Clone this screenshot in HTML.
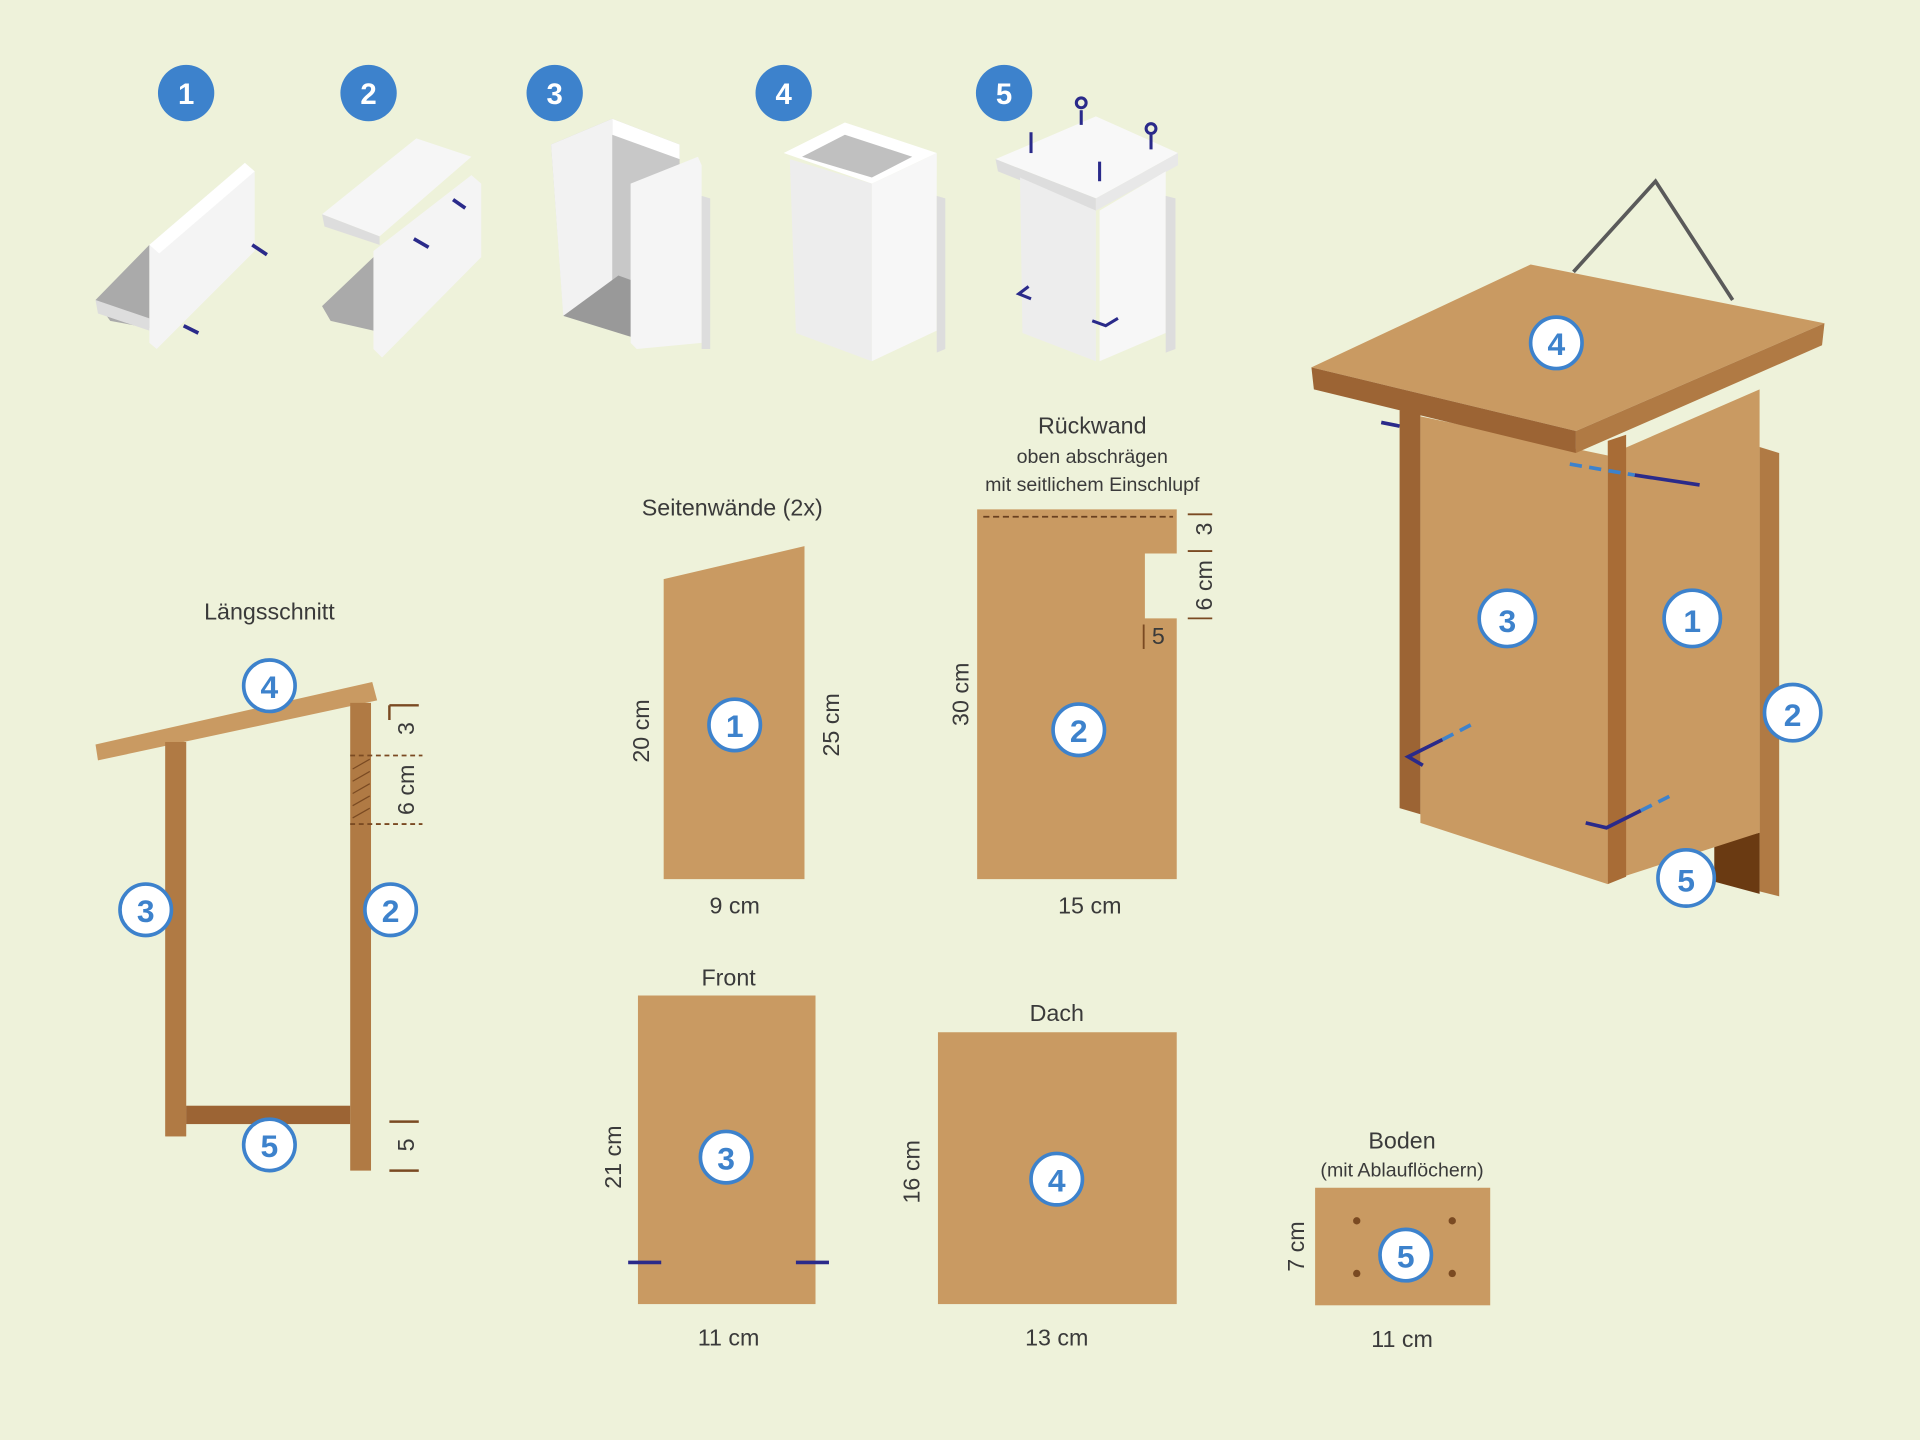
<!DOCTYPE html>
<html><head><meta charset="utf-8"><style>
html,body{margin:0;padding:0;background:#eef2da;}
svg{display:block}
text{font-family:"Liberation Sans",sans-serif;fill:#3a3a3a}
.c{fill:#fff;stroke:#3d82cc;stroke-width:3}
.n{fill:#3d82cc;font-weight:bold;font-size:26px;text-anchor:middle}
.b{fill:#3d82cc}
.bn{fill:#fff;font-weight:bold;font-size:24px;text-anchor:middle}
.t{font-size:19px;text-anchor:middle}
.w{fill:#c99a62}
.d{fill:#a86c36}
</style></head><body>
<svg width="1920" height="1440" viewBox="0 0 1568 1176" xmlns="http://www.w3.org/2000/svg">
<rect width="1568" height="1176" fill="#eef2da"/>

<!-- step icons -->
<g>
<circle class="b" cx="152" cy="76" r="23"/><text class="bn" x="152" y="85">1</text>
<circle class="b" cx="301" cy="76" r="23"/><text class="bn" x="301" y="85">2</text>
<circle class="b" cx="453" cy="76" r="23"/><text class="bn" x="453" y="85">3</text>
<circle class="b" cx="640" cy="76" r="23"/><text class="bn" x="640" y="85">4</text>
<circle class="b" cx="820" cy="76" r="23"/><text class="bn" x="820" y="85">5</text>
</g>
<!-- step 1 -->
<polygon points="78,245 122,200 122,268 90,262" fill="#aaa"/>
<polygon points="78,245 122,260 122,270 80,256" fill="#ddd"/>
<polygon points="122,200 200,133 208,140 208,205 128,285 122,280" fill="#f4f4f4"/>
<polygon points="122,200 200,133 208,140 130,207" fill="#fff"/>
<line x1="206" y1="200" x2="218" y2="208" stroke="#2a2a8a" stroke-width="3"/>
<line x1="150" y1="266" x2="162" y2="272" stroke="#2a2a8a" stroke-width="3"/>
<!-- step 2 -->
<polygon points="263,175 340,113 385,128 310,193" fill="#f6f6f6"/>
<polygon points="263,175 310,193 310,200 265,185" fill="#ddd"/>
<polygon points="263,250 305,210 305,270 270,262" fill="#aaa"/>
<polygon points="305,205 385,143 393,150 393,210 312,292 305,285" fill="#f4f4f4"/>
<line x1="338" y1="195" x2="350" y2="202" stroke="#2a2a8a" stroke-width="3"/>
<line x1="370" y1="163" x2="380" y2="170" stroke="#2a2a8a" stroke-width="3"/>
<!-- step 3 -->
<polygon points="450,118 500,97 555,118 555,245 505,270 460,255" fill="#c8c8c8"/>
<polygon points="450,118 500,97 500,245 460,258" fill="#f2f2f2"/>
<polygon points="500,97 555,118 555,130 500,110" fill="#fff"/>
<polygon points="460,258 505,225 560,245 515,275" fill="#999"/>
<polygon points="515,150 570,128 573,135 573,280 520,285 515,280" fill="#f5f5f5"/>
<polygon points="573,160 580,162 580,285 573,285" fill="#ddd"/>
<!-- step 4 -->
<polygon points="640,125 690,100 765,125 712,150" fill="#fff"/>
<polygon points="655,128 690,110 745,128 712,145" fill="#c0c0c0"/>
<polygon points="645,130 712,150 712,295 650,272" fill="#ededed"/>
<polygon points="712,150 765,125 765,270 712,295" fill="#f7f7f7"/>
<polygon points="765,160 772,162 772,285 765,288" fill="#ddd"/>
<!-- step 5 -->
<polygon points="813,130 895,95 962,125 895,162" fill="#f8f8f8"/>
<polygon points="813,130 895,162 895,172 815,140" fill="#ddd"/>
<polygon points="895,162 962,125 962,135 895,172" fill="#e8e8e8"/>
<polygon points="833,145 895,172 895,295 835,272" fill="#ededed"/>
<polygon points="898,172 952,140 952,272 898,295" fill="#f7f7f7"/>
<polygon points="952,160 960,162 960,285 952,288" fill="#ddd"/>
<g stroke="#2a2a8a" stroke-width="2.5" fill="none">
<line x1="883" y1="90" x2="883" y2="102"/><circle cx="883" cy="84" r="4"/>
<line x1="940" y1="110" x2="940" y2="122"/><circle cx="940" cy="105" r="4"/>
<line x1="842" y1="108" x2="842" y2="125"/><line x1="898" y1="132" x2="898" y2="148"/>
<polyline points="840,234 832,240 842,244"/><polyline points="892,262 903,266 913,260"/>
</g>

<!-- Längsschnitt -->
<text class="t" x="220" y="506">Längsschnitt</text>
<polygon class="w" points="78,608 304,557 308,572 80,621"/>
<rect class="d" x="135" y="606" width="17" height="322" fill="#b07a44"/>
<rect x="286" y="574" width="17" height="382" fill="#b07a44"/>
<rect x="152" y="903" width="134" height="15" fill="#9c6434"/>
<rect x="135" y="606" width="17" height="322" fill="#b07a44"/>
<g stroke="#7a4a22" stroke-width="1.5" stroke-dasharray="4,3">
<line x1="286" y1="617" x2="345" y2="617"/><line x1="286" y1="673" x2="345" y2="673"/>
</g>
<g stroke="#7a4a22" stroke-width="1">
<line x1="288" y1="628" x2="302" y2="620"/><line x1="288" y1="638" x2="302" y2="630"/><line x1="288" y1="648" x2="302" y2="640"/><line x1="288" y1="658" x2="302" y2="650"/><line x1="288" y1="668" x2="302" y2="660"/>
</g>
<g stroke="#7a4a22" stroke-width="2">
<line x1="318" y1="576" x2="342" y2="576"/><line x1="318" y1="916" x2="342" y2="916"/><line x1="318" y1="956" x2="342" y2="956"/>
<line x1="318" y1="576" x2="318" y2="588"/>
</g>
<text class="t" transform="translate(338,595) rotate(-90)">3</text>
<text class="t" transform="translate(338,645) rotate(-90)">6 cm</text>
<text class="t" transform="translate(338,935) rotate(-90)">5</text>
<circle class="c" cx="220" cy="560" r="21"/><text class="n" x="220" y="570">4</text>
<circle class="c" cx="119" cy="743" r="21"/><text class="n" x="119" y="753">3</text>
<circle class="c" cx="319" cy="743" r="21"/><text class="n" x="319" y="753">2</text>
<circle class="c" cx="220" cy="935" r="21"/><text class="n" x="220" y="945">5</text>

<!-- Seitenwände -->
<text class="t" x="598" y="421">Seitenwände (2x)</text>
<polygon class="w" points="542,473 657,446 657,718 542,718"/>
<text class="t" transform="translate(530,597) rotate(-90)">20 cm</text>
<text class="t" transform="translate(685,592) rotate(-90)">25 cm</text>
<text class="t" x="600" y="746">9 cm</text>
<circle class="c" cx="600" cy="592" r="21"/><text class="n" x="600" y="602">1</text>

<!-- Rückwand -->
<text class="t" x="892" y="354">Rückwand</text>
<text class="t" x="892" y="378" style="font-size:16px">oben abschrägen</text>
<text class="t" x="892" y="401" style="font-size:16px">mit seitlichem Einschlupf</text>
<polygon class="w" points="798,416 961,416 961,452 935,452 935,505 961,505 961,718 798,718"/>
<line x1="803" y1="422" x2="958" y2="422" stroke="#6a4020" stroke-width="1.5" stroke-dasharray="5,3"/>
<g stroke="#7a4a22" stroke-width="1.5">
<line x1="970" y1="420" x2="990" y2="420"/><line x1="970" y1="450" x2="990" y2="450"/><line x1="970" y1="505" x2="990" y2="505"/>
<line x1="934" y1="510" x2="934" y2="530"/>
</g>
<text class="t" transform="translate(990,432) rotate(-90)">3</text>
<text class="t" transform="translate(990,478) rotate(-90)">6 cm</text>
<text class="t" x="946" y="526">5</text>
<text class="t" transform="translate(791,567) rotate(-90)">30 cm</text>
<text class="t" x="890" y="746">15 cm</text>
<circle class="c" cx="881" cy="596" r="21"/><text class="n" x="881" y="606">2</text>

<!-- Front -->
<text class="t" x="595" y="805">Front</text>
<rect class="w" x="521" y="813" width="145" height="252"/>
<line x1="513" y1="1031" x2="540" y2="1031" stroke="#2a2a8a" stroke-width="3"/>
<line x1="650" y1="1031" x2="677" y2="1031" stroke="#2a2a8a" stroke-width="3"/>
<text class="t" transform="translate(507,945) rotate(-90)">21 cm</text>
<text class="t" x="595" y="1099">11 cm</text>
<circle class="c" cx="593" cy="945" r="21"/><text class="n" x="593" y="955">3</text>

<!-- Dach -->
<text class="t" x="863" y="834">Dach</text>
<rect class="w" x="766" y="843" width="195" height="222"/>
<text class="t" transform="translate(751,957) rotate(-90)">16 cm</text>
<text class="t" x="863" y="1099">13 cm</text>
<circle class="c" cx="863" cy="963" r="21"/><text class="n" x="863" y="973">4</text>

<!-- Boden -->
<text class="t" x="1145" y="938">Boden</text>
<text class="t" x="1145" y="961" style="font-size:16px">(mit Ablauflöchern)</text>
<rect class="w" x="1074" y="970" width="143" height="96"/>
<g fill="#7a4a22"><circle cx="1108" cy="997" r="3"/><circle cx="1186" cy="997" r="3"/><circle cx="1108" cy="1040" r="3"/><circle cx="1186" cy="1040" r="3"/></g>
<text class="t" transform="translate(1065,1018) rotate(-90)">7 cm</text>
<text class="t" x="1145" y="1100">11 cm</text>
<circle class="c" cx="1148" cy="1025" r="21"/><text class="n" x="1148" y="1035">5</text>

<!-- House -->
<path d="M1285,222 L1352,148 L1415,245" fill="none" stroke="#5a5a5a" stroke-width="3"/>
<polygon points="1437,365 1453,370 1453,732 1437,728" fill="#b07a44"/>
<polygon points="1400,690 1437,680 1437,730 1400,720" fill="#6a3a12"/>
<polygon points="1143,335 1160,335 1160,665 1143,660" fill="#9c6434"/>
<polygon points="1313,372 1437,318 1437,680 1313,720" fill="#c99a62"/>
<polygon class="w" points="1160,340 1313,372 1313,722 1160,672"/>
<polygon points="1313,360 1328,355 1328,716 1313,722" fill="#a86c36"/>
<polygon points="1071,300 1250,216 1490,264 1287,352" fill="#c99a62"/>
<polygon points="1071,300 1287,352 1287,370 1073,318" fill="#9c6434"/>
<polygon points="1287,352 1490,264 1488,282 1287,370" fill="#b07a44"/>
<g stroke="#2a2a8a" stroke-width="3" fill="none">
<line x1="1128" y1="345" x2="1143" y2="348"/>
<line x1="1335" y1="388" x2="1388" y2="396"/>
<polyline points="1162,625 1150,618 1178,604"/>
<polyline points="1295,672 1312,676 1340,662"/>
</g>
<g stroke="#3d82cc" stroke-width="3" stroke-dasharray="10,6">
<line x1="1282" y1="379" x2="1335" y2="388"/>
<line x1="1178" y1="604" x2="1205" y2="590"/>
<line x1="1340" y1="662" x2="1368" y2="648"/>
</g>
<circle class="c" cx="1271" cy="280" r="21"/><text class="n" x="1271" y="290">4</text>
<circle class="c" cx="1231" cy="505" r="23"/><text class="n" x="1231" y="516">3</text>
<circle class="c" cx="1382" cy="505" r="23"/><text class="n" x="1382" y="516">1</text>
<circle class="c" cx="1464" cy="582" r="23"/><text class="n" x="1464" y="593">2</text>
<circle class="c" cx="1377" cy="717" r="23"/><text class="n" x="1377" y="728">5</text>
</svg>
</body></html>
